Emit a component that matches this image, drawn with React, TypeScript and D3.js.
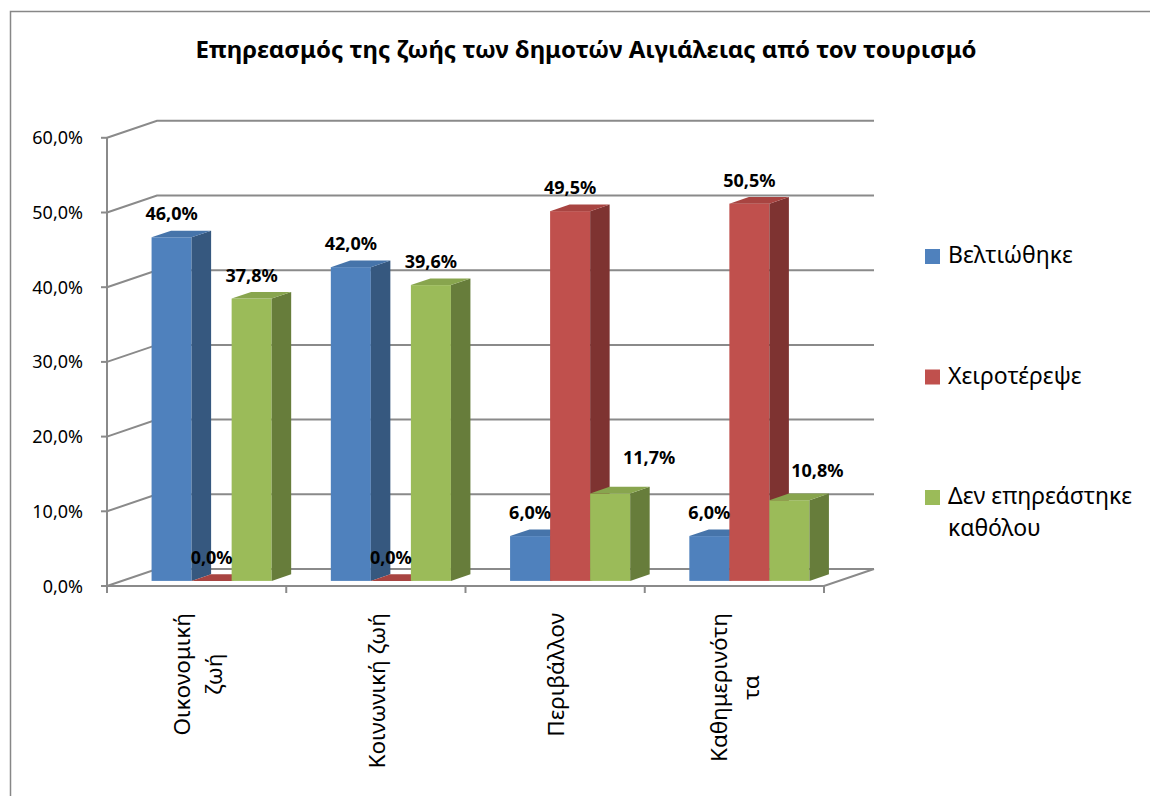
import React, { useEffect, useRef } from "react";
import * as d3 from "d3";

const chartTitle = "Επηρεασμός της ζωής των δημοτών Αιγιάλειας από τον τουρισμό";
const categories = ["Οικονομική ζωή", "Κοινωνική ζωή", "Περιβάλλον", "Καθημερινότητα"];
const categoryLines = [["Οικονομική", "ζωή"], ["Κοινωνική ζωή"], ["Περιβάλλον"], ["Καθημερινότη", "τα"]];
const seriesNames = ["Βελτιώθηκε", "Χειροτέρεψε", "Δεν επηρεάστηκε καθόλου"];
const legendLines = [["Βελτιώθηκε"], ["Χειροτέρεψε"], ["Δεν επηρεάστηκε", "καθόλου"]];
const improved = [46.0, 42.0, 6.0, 6.0];
const worsened = [0.0, 0.0, 49.5, 50.5];
const unaffected = [37.8, 39.6, 11.7, 10.8];
const yTicks = [0, 10, 20, 30, 40, 50, 60];

const seriesValues = [improved, worsened, unaffected];
const palette = [
  { front: "#4F81BD", side: "#36587F", top: "#4674AA" },
  { front: "#C0504D", side: "#7E3331", top: "#A84441" },
  { front: "#9BBB59", side: "#677D3B", top: "#88A54E" },
];
// manual label nudges (series, category) -> [dx, dy]
const labelNudge: Record<string, [number, number]> = {
  "2-2": [39, -12.5],
  "2-3": [28, -6],
};

const FONT = "'Noto Sans', 'DejaVu Sans', sans-serif";

export default function App() {
  const ref = useRef<SVGSVGElement | null>(null);

  useEffect(() => {
    document.body.style.margin = "0";
    const svg = d3.select(ref.current!);
    svg.selectAll("*").remove();

    const W = 1150, H = 796;
    const x0 = 107, x1 = 824, yBase = 586, yTopV = 137.8;
    const DX = 50, DY = -17;
    const grid = "#8A8A8A";

    svg.append("rect").attr("x", 10.5).attr("y", 11.5).attr("width", 1150).attr("height", 800)
      .attr("fill", "#fff").attr("stroke", "#878787").attr("stroke-width", 1.5);

    svg.append("text").attr("x", 586).attr("y", 58).attr("text-anchor", "middle")
      .attr("font-family", FONT).attr("font-weight", "bold").attr("font-size", 24)
      .attr("fill", "#000").text(chartTitle);

    const y = d3.scaleLinear().domain([0, 60]).range([yBase, yTopV]);
    const xBand = d3.scaleBand<string>().domain(categories).range([x0, x1]);
    const bw = xBand.bandwidth();
    const g = 0.67;
    const xSub = d3.scaleBand<string>().domain(seriesNames).range([bw * (1 - g) / 2, bw * (1 + g) / 2]);

    const gGrid = svg.append("g").attr("fill", "none").attr("stroke", grid).attr("stroke-width", 2);
    yTicks.forEach((t) => {
      const yy = y(t);
      gGrid.append("path").attr("d", `M${x0},${yy}L${x0 + DX},${yy + DY}L${x1 + DX},${yy + DY}`);
      gGrid.append("line").attr("x1", x0 - 6).attr("x2", x0).attr("y1", yy).attr("y2", yy);
    });
    gGrid.append("path").attr("d", `M${x0},${yBase}L${x1},${yBase}L${x1 + DX},${yBase + DY}`);
    gGrid.append("line").attr("x1", x0).attr("x2", x0).attr("y1", yBase).attr("y2", y(60));
    const catTicks = categories.map((c) => xBand(c)!).concat([x1]);
    catTicks.forEach((cx) => {
      gGrid.append("line").attr("x1", cx).attr("x2", cx).attr("y1", yBase).attr("y2", yBase + 7);
    });

    svg.append("g").selectAll("text").data(yTicks).join("text")
      .attr("x", 83).attr("y", (d) => y(d) + 6.5).attr("text-anchor", "end")
      .attr("font-family", FONT).attr("font-size", 18).attr("fill", "#000")
      .text((d) => d.toFixed(1).replace(".", ",") + "%");

    const t0 = 0.3, td = 0.39;
    const fx = t0 * DX, fy = t0 * DY;
    const bdx = td * DX, bdy = td * DY;
    const gBars = svg.append("g");
    const labels: { x: number; y: number; text: string }[] = [];
    categories.forEach((c, ci) => {
      seriesNames.forEach((s, si) => {
        const v = seriesValues[si][ci];
        const bx = xBand(c)! + xSub(s)! + fx;
        const w = xSub.bandwidth();
        const yB = yBase + fy;
        const yT = y(v) + fy;
        const col = palette[si];
        if (yB - yT > 0.01) {
          gBars.append("rect").attr("x", bx).attr("y", yT).attr("width", w).attr("height", yB - yT).attr("fill", col.front);
          gBars.append("path").attr("fill", col.side)
            .attr("d", `M${bx + w},${yT}L${bx + w + bdx},${yT + bdy}L${bx + w + bdx},${yB + bdy}L${bx + w},${yB}Z`);
        }
        gBars.append("path").attr("fill", col.top)
          .attr("d", `M${bx},${yT}L${bx + w},${yT}L${bx + w + bdx},${yT + bdy}L${bx + bdx},${yT + bdy}Z`);
        const nudge = labelNudge[`${si}-${ci}`] || [0, 0];
        labels.push({ x: bx + w / 2 + nudge[0], y: yT - 17 + nudge[1], text: v.toFixed(1).replace(".", ",") + "%" });
      });
    });

    svg.append("g").selectAll("text").data(labels).join("text")
      .attr("x", (d) => d.x).attr("y", (d) => d.y).attr("text-anchor", "middle")
      .attr("font-family", FONT).attr("font-weight", "bold").attr("font-size", 18).attr("fill", "#000")
      .text((d) => d.text);

    const labelTop = 613;
    const gCat = svg.append("g").attr("font-family", FONT).attr("font-size", 22.5).attr("fill", "#000");
    categories.forEach((c, ci) => {
      const lines = categoryLines[ci];
      const center = xBand(c)! + bw / 2;
      const nodes = lines.map((ln, li) => {
        const bx = center + 9 + (li - (lines.length - 1) / 2) * 32;
        return gCat.append("text").attr("text-anchor", "middle").attr("data-bx", bx).text(ln);
      });
      const L = Math.max(...nodes.map((n) => (n.node() as SVGTextElement).getComputedTextLength()));
      const cy = labelTop + L / 2;
      nodes.forEach((n) => {
        const bx = +n.attr("data-bx");
        n.attr("transform", `translate(${bx},${cy}) rotate(-90)`);
      });
    });

    const gLeg = svg.append("g").attr("font-family", FONT).attr("font-size", 23).attr("fill", "#000");
    seriesNames.forEach((s, si) => {
      const top = 249 + si * 120.5;
      gLeg.append("rect").attr("x", 925).attr("y", top).attr("width", 15).attr("height", 15).attr("fill", palette[si].front);
      legendLines[si].forEach((ln, li) => {
        gLeg.append("text").attr("x", 948).attr("y", top + 14 + li * 32).text(ln);
      });
    });

    svg.attr("width", W).attr("height", H);
  }, []);

  return <svg ref={ref} width={1150} height={796} style={{ display: "block", background: "#fff" }} />;
}
